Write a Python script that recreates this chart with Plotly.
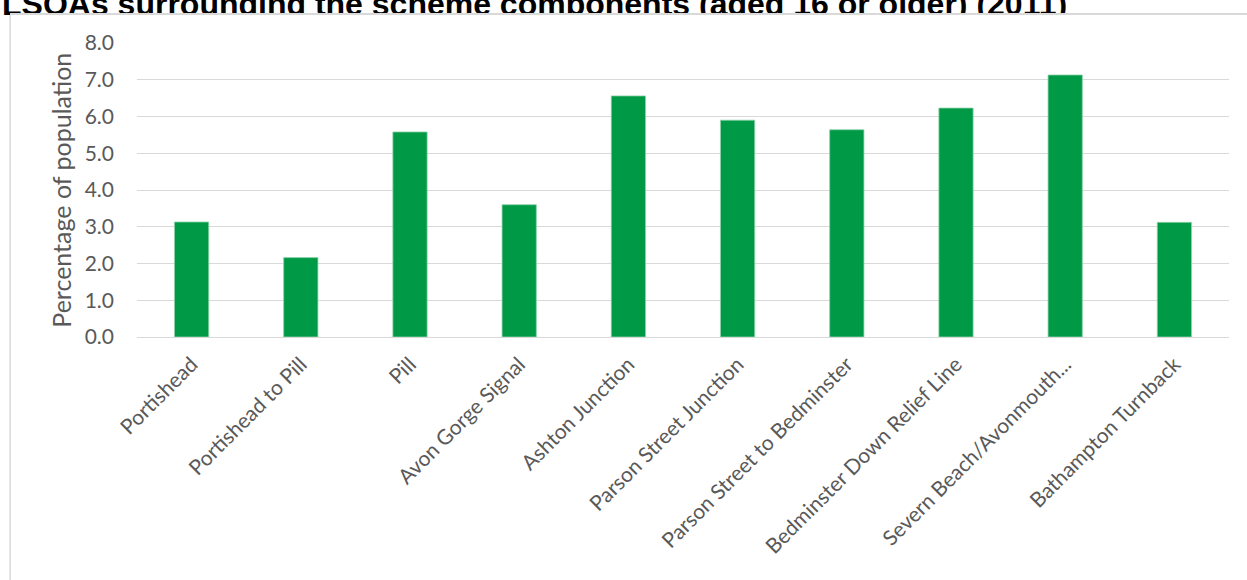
import plotly.graph_objects as go

categories = ["Portishead", "Portishead to Pill", "Pill", "Avon Gorge Signal",
              "Ashton Junction", "Parson Street Junction", "Parson Street to Bedminster",
              "Bedminster Down Relief Line", "Severn Beach/Avonmouth...", "Bathampton Turnback"]
values = [3.13, 2.16, 5.58, 3.60, 6.56, 5.90, 5.64, 6.23, 7.13, 3.12]
y_ticks = [0, 1, 2, 3, 4, 5, 6, 7, 8]
y_tick_labels = ["0.0", "1.0", "2.0", "3.0", "4.0", "5.0", "6.0", "7.0", "8.0"]
title_text = "LSOAs surrounding the scheme components (aged 16 or older) (2011)"
y_title = "Percentage of population"

W, H = 1247, 580
L, R, T, B = 136.5, 1229.5, 43, 336.7
pw, ph = R - L, B - T

def px(x):
    return (x - L) / pw

def py(y):
    return (B - y) / ph

fig = go.Figure(go.Bar(
    x=categories, y=values,
    marker=dict(color="#009a46", line=dict(color="#8fd3ab", width=0.8)),
    hoverinfo="skip",
))

fig.update_layout(
    width=W, height=H, autosize=False,
    margin=dict(l=L, r=W - R, t=T, b=H - B, pad=0),
    paper_bgcolor="white", plot_bgcolor="white",
    bargap=0.686,
    showlegend=False,
    font=dict(family="Lato", color="#595959"),
    xaxis=dict(tickangle=-45, tickfont=dict(size=21, family="Lato", color="#595959"),
               showgrid=False, showline=False, ticks="", ticklabelstandoff=10, fixedrange=True),
    yaxis=dict(range=[0, 8], tickvals=y_ticks, ticktext=y_tick_labels,
               tickfont=dict(size=21, family="Lato", color="#595959"),
               showgrid=True, gridcolor="#d9d9d9", gridwidth=1.3,
               zeroline=True, zerolinecolor="#d9d9d9", zerolinewidth=1.3,
               showline=False, ticks="", ticklabelstandoff=22, fixedrange=True),
    shapes=[dict(type="rect", xref="paper", yref="paper",
                 x0=px(9.5), x1=px(1265), y0=py(14), y1=py(600),
                 line=dict(color="#d9d9d9", width=1.5), fillcolor="rgba(0,0,0,0)", layer="below")],
    annotations=[
        dict(text="<b>" + title_text + "</b>",
             xref="paper", yref="paper", x=px(-1), y=py(24), xanchor="left", yanchor="bottom",
             showarrow=False, font=dict(family="Liberation Sans", size=32, color="black")),
        # white cover: the chart box hides the lower part of the title
        dict(text="", xref="paper", yref="paper", x=px(11), y=py(13.5),
             xanchor="left", yanchor="top", width=1300, height=20, borderpad=0,
             bgcolor="white", borderwidth=0, showarrow=False),
        # top border line of the chart box
        dict(text="", xref="paper", yref="paper", x=px(9), y=py(13.3),
             xanchor="left", yanchor="top", width=1300, height=1.5, borderpad=0,
             bgcolor="#d9d9d9", borderwidth=0, showarrow=False),
        dict(text=y_title, xref="paper", yref="paper",
             x=px(61), y=py(190), xanchor="center", yanchor="middle", textangle=-90,
             showarrow=False, font=dict(family="Lato", size=25, color="#595959")),
    ],
)

fig.write_html("out.html")
